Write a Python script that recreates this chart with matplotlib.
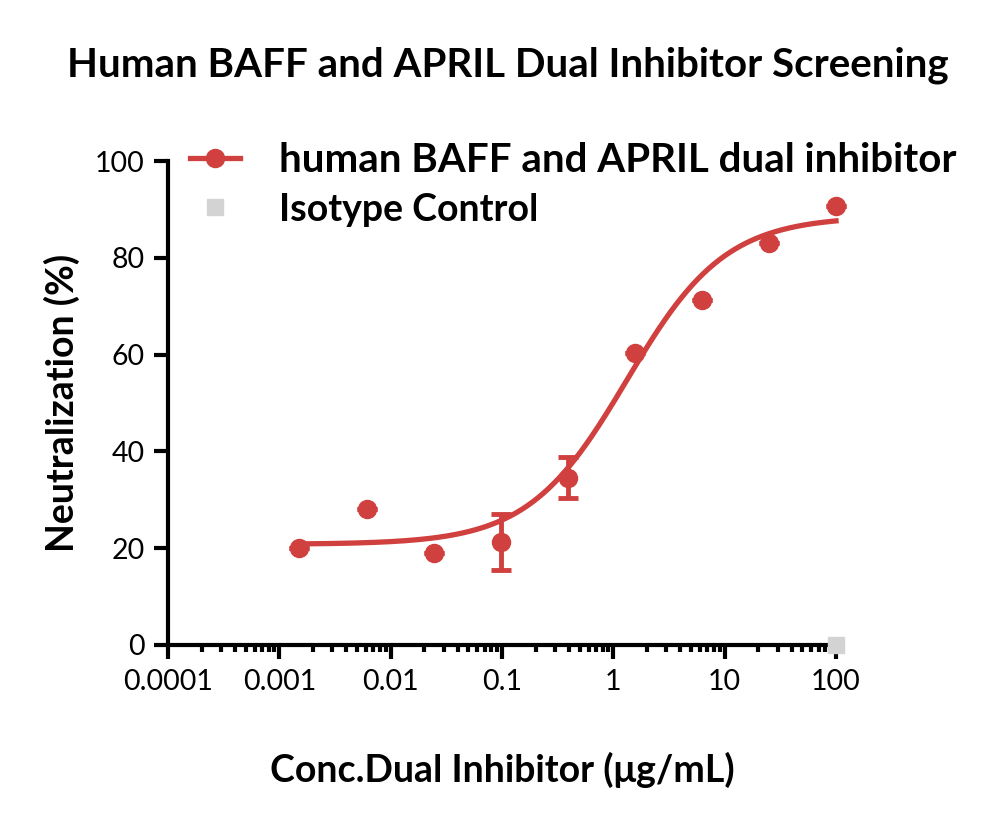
import numpy as np
import matplotlib
matplotlib.use("Agg")
import matplotlib.pyplot as plt
from matplotlib.legend_handler import HandlerTuple

plt.rcParams['font.family'] = ['Lato', 'DejaVu Sans']

# 4-fold dilution series (ug/mL)
conc = [0.0015, 0.0061, 0.0244, 0.0977, 0.39, 1.5625, 6.25, 25, 100]
neutralization = [20.0, 28.2, 19.1, 21.2, 34.6, 60.4, 71.3, 83.0, 90.8]
errors = [0, 0, 0, 5.8, 4.2, 0, 0, 0, 0]

isotype_conc = [100]
isotype_values = [0]

# fitted 4PL parameters
fit_bottom, fit_top, fit_ec50, fit_hill = 20.8, 88.6, 1.32, 0.98

red = '#D0403F'
grey = '#D3D3D3'

fig = plt.figure(figsize=(10, 8.23), dpi=100)
ax = fig.add_axes([0.168, 0.2163, 0.668, 0.588])

xs = np.logspace(np.log10(conc[0]), np.log10(conc[-1]), 300)
fit = fit_bottom + (fit_top - fit_bottom) / (1 + (fit_ec50 / xs) ** fit_hill)
curve, = ax.plot(xs, fit, color=red, lw=3.8, zorder=3, clip_on=False)

eb = ax.errorbar(conc, neutralization, yerr=errors, fmt='o', color=red, ms=13,
                 elinewidth=3.5, capsize=7, capthick=3.5, zorder=4)
for artist in eb.lines[0:1] + eb.lines[1] + eb.lines[2]:
    artist.set_clip_on(False)
iso, = ax.plot(isotype_conc, isotype_values, 's', color=grey, ms=12,
               clip_on=False, zorder=5)

ax.set_xscale('log')
ax.set_xlim(1e-4, 100)
ax.set_ylim(0, 100)
ax.set_xticks([1e-4, 1e-3, 1e-2, 1e-1, 1, 10, 100])
ax.set_xticklabels(['0.0001', '0.001', '0.01', '0.1', '1', '10', '100'])
ax.set_yticks([0, 20, 40, 60, 80, 100])

for side in ['top', 'right']:
    ax.spines[side].set_visible(False)
for side in ['left', 'bottom']:
    ax.spines[side].set_linewidth(3)
ax.tick_params(which='major', length=10, width=3, labelsize=20.5, pad=7)
ax.tick_params(which='minor', length=5, width=3)

ax.set_xlabel('Conc.Dual Inhibitor (μg/mL)', fontsize=27, fontweight='bold', va='center')
ax.xaxis.set_label_coords(0.5, -0.258)
ax.set_ylabel('Neutralization (%)', fontsize=27, fontweight='bold', va='center')
ax.yaxis.set_label_coords(-0.159, 0.5)
fig.text(0.508, 0.921, 'Human BAFF and APRIL Dual Inhibitor Screening', fontsize=29,
         fontweight='bold', ha='center', va='center')

leg = ax.legend([(curve, eb[0]), iso],
                ['human BAFF and APRIL dual inhibitor', 'Isotype Control'],
                handler_map={tuple: HandlerTuple(ndivide=1, pad=0)},
                loc='upper left', bbox_to_anchor=(0.19, 0.827),
                bbox_transform=fig.transFigure, frameon=False,
                prop={'size': 29, 'weight': 'bold'}, handlelength=1.25,
                handletextpad=0.95, labelspacing=0.33, borderaxespad=0,
                borderpad=0)
leg.get_texts()[1].set_fontsize(27)

fig.savefig('out.png', dpi=100)
